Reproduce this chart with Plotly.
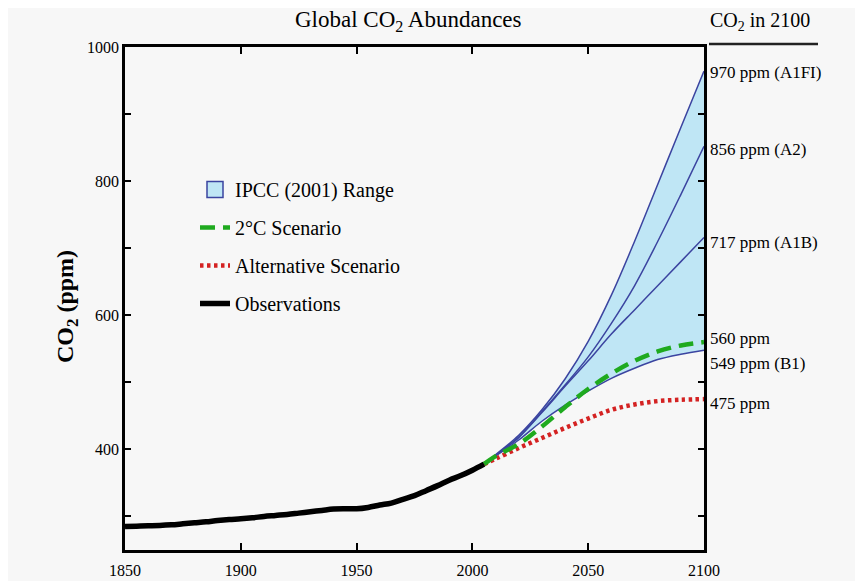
import plotly.graph_objects as go

# ---------------- data ----------------
obs_years = [1850, 1855, 1860, 1865, 1870, 1875, 1880, 1885, 1890, 1895, 1900, 1905,
             1910, 1915, 1920, 1925, 1930, 1935, 1940, 1945, 1950, 1955, 1960, 1965,
             1970, 1975, 1980, 1985, 1990, 1995, 2000, 2005]
obs_co2 = [285, 285.5, 286, 286.5, 287.5, 289, 290.5, 292, 294, 295.5, 296.5, 298,
           300, 301.5, 303, 305, 307, 309, 311, 311.5, 311.5, 313.5, 317, 320,
           325.5, 331, 338.5, 346, 354, 361, 369, 378]

scen_years = [2005, 2010, 2020, 2030, 2040, 2050, 2060, 2070, 2080, 2090, 2100]
a1fi = [378, 392, 421, 459, 505, 561, 630, 710, 795, 880, 964]
a2 = [378, 391, 418, 456, 496, 538, 588, 644, 710, 780, 852]
a1b = [378, 391, 418, 455, 494, 532, 572, 608, 644, 680, 716]
b1 = [378, 390, 414, 442, 466, 487, 506, 521, 534, 542, 548]
two_deg = [378, 390, 408, 434, 463, 490, 513, 532, 546, 555, 560]
alt = [378, 386, 402, 417, 432, 446, 459, 467, 472, 474, 475]

end_labels = ["970 ppm (A1FI)", "856 ppm (A2)", "717 ppm (A1B)",
              "560 ppm", "549 ppm (B1)", "475 ppm"]
end_values = [a1fi[-1], a2[-1], a1b[-1], two_deg[-1], b1[-1], alt[-1]]
end_shifts = [-1, -3, -5, 4, -13, -4]

x_ticks = [1850, 1900, 1950, 2000, 2050, 2100]
y_ticks = [300, 400, 500, 600, 700, 800, 900, 1000]
y_ticktext = ["", "400", "", "600", "", "800", "", "1000"]

# ---------------- style ----------------
BG = "#f7f7f7"
FILL = "#bfe6f5"
BLUE = "#3b44a0"
GREEN = "#1faa1f"
RED = "#d42222"
SERIF = "Liberation Serif, Times New Roman, serif"

fig = go.Figure()

# IPCC range: lower boundary then upper boundary filled
fig.add_trace(go.Scatter(x=scen_years, y=b1, mode="lines", line_shape="spline",
                         line=dict(color=BLUE, width=1.5), showlegend=False,
                         hoverinfo="skip"))
fig.add_trace(go.Scatter(x=scen_years, y=a1fi, mode="lines", fill="tonexty",
                         line_shape="spline", fillcolor=FILL,
                         line=dict(color=BLUE, width=1.5),
                         name="IPCC (2001) Range", showlegend=False))
fig.add_trace(go.Scatter(x=scen_years, y=a2, mode="lines", line_shape="spline",
                         line=dict(color=BLUE, width=1.5), showlegend=False))
fig.add_trace(go.Scatter(x=scen_years, y=a1b, mode="lines", line_shape="spline",
                         line=dict(color=BLUE, width=1.5), showlegend=False))
# legend key for the range (square swatch)
fig.add_trace(go.Scatter(x=[None], y=[None], mode="markers",
                         marker=dict(symbol="square", size=16, color=FILL,
                                     line=dict(color=BLUE, width=1.5)),
                         name="IPCC (2001) Range", legendrank=1,
                         legendgroup="g1"))
fig.add_trace(go.Scatter(x=scen_years, y=alt, mode="lines", line_shape="spline",
                         line=dict(color=RED, width=4.5, dash="3.5px,3.5px"),
                         name="Alternative Scenario", legendrank=3,
                         legendgroup="g3"))
fig.add_trace(go.Scatter(x=scen_years, y=two_deg, mode="lines", line_shape="spline",
                         line=dict(color=GREEN, width=4.5, dash="15px,8px"),
                         name="2°C Scenario", legendrank=2, legendgroup="g2"))
fig.add_trace(go.Scatter(x=obs_years, y=obs_co2, mode="lines", line_shape="spline",
                         line=dict(color="black", width=5.5),
                         name="Observations", legendrank=4, legendgroup="g4"))

# page body has an 8px margin: the figure starts at (OFF, OFF)
OFF = 8
W, H = 863 - OFF, 581 - OFF
L, T = 125 - OFF, 47 - OFF
R = (OFF + W) - 704
B = (OFF + H) - 550
pw, ph = W - L - R, H - T - B

def px_x(px):
    return (px - OFF - L) / pw

def px_y(py):
    return (H - B - (py - OFF)) / ph

annotations = []
for lab, val, sh in zip(end_labels, end_values, end_shifts):
    annotations.append(dict(x=1, xref="paper", y=val, yref="y", text=lab,
                            xanchor="left", yanchor="middle", xshift=4,
                            yshift=sh, showarrow=False,
                            font=dict(family=SERIF, size=17, color="black")))
annotations.append(dict(x=px_x(708), xref="paper", y=px_y(21), yref="paper",
                        text="CO<sub>2</sub> in 2100", xanchor="left",
                        yanchor="middle", showarrow=False,
                        font=dict(family=SERIF, size=20, color="black")))
annotations.append(dict(x=px_x(408), xref="paper", y=px_y(21), yref="paper",
                        text="Global CO<sub>2</sub> Abundances", xanchor="center",
                        yanchor="middle", showarrow=False,
                        font=dict(family=SERIF, size=23, color="black")))
annotations.append(dict(x=px_x(67), xref="paper", y=px_y(307), yref="paper",
                        text="<b>CO<sub>2</sub> (ppm)</b>", textangle=-90,
                        xanchor="center", yanchor="middle", showarrow=False,
                        font=dict(family=SERIF, size=24, color="black")))

shapes = [dict(type="line", xref="paper", yref="paper",
               x0=px_x(709), x1=px_x(818), y0=px_y(44), y1=px_y(44),
               line=dict(color="#222222", width=2.5))]

fig.update_layout(
    width=W, height=H,
    margin=dict(l=L, r=R, t=T, b=B, autoexpand=False),
    paper_bgcolor=BG, plot_bgcolor=BG,
    font=dict(family=SERIF, size=16, color="black"),
    showlegend=True,
    legend=dict(x=px_x(195), y=px_y(170), xanchor="left", yanchor="top",
                bgcolor="rgba(0,0,0,0)", font=dict(family=SERIF, size=20),
                traceorder="grouped", tracegroupgap=9, itemwidth=30),
    annotations=annotations,
    shapes=shapes,
)

fig.update_xaxes(range=[1850, 2100], tickvals=x_ticks, ticks="inside",
                 ticklen=7, tickwidth=2, tickcolor="black",
                 showline=True, linewidth=2.5, linecolor="black",
                 mirror="ticks", showgrid=False, zeroline=False,
                 ticklabelstandoff=4, automargin=False,
                 tickfont=dict(family=SERIF, size=16))
fig.update_yaxes(range=[250, 1000], tickvals=y_ticks, ticktext=y_ticktext,
                 ticks="inside", ticklen=6, tickwidth=2, tickcolor="black",
                 showline=True, linewidth=2.5, linecolor="black",
                 mirror="ticks", showgrid=False, zeroline=False,
                 automargin=False,
                 tickfont=dict(family=SERIF, size=16))

fig.write_html("out.html")
